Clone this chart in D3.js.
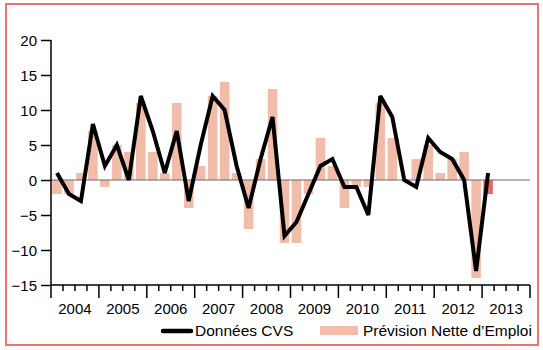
<!DOCTYPE html>
<html>
<head>
<meta charset="utf-8">
<script src="https://cdn.jsdelivr.net/npm/d3@7"></script>
<style>
  html, body { margin: 0; padding: 0; background: #fff; }
  svg { display: block; font-family: "Liberation Sans", Arial, Helvetica, sans-serif; }
</style>
</head>
<body>
<svg id="chart"></svg>
<script>
// Quarterly series, 2004 Q1 -> 2013 Q1
const years = [2004, 2005, 2006, 2007, 2008, 2009, 2010, 2011, 2012, 2013];
const yTicks = [-15, -10, -5, 0, 5, 10, 15, 20];
const donneesCVS = [
  1, -2, -3, 8,
  2, 5, 0, 12,
  7, 1, 7, -3,
  5, 12, 10, 2,
  -4, 3, 9, -8,
  -6, -2, 2, 3,
  -1, -1, -5, 12,
  9, 0, -1, 6,
  4, 3, 0, -13,
  1
];
const prevision = [
  -2, -2, 1, 7,
  -1, 5, 4, 11,
  4, 1, 11, -4,
  2, 12, 14, 1,
  -7, 3, 13, -9,
  -9, -2, 6, 2,
  -4, -1, -1, 11,
  6, 0, 3, 5,
  1, 3, 4, -14,
  -2
];
const legendLabels = ['Données CVS', 'Prévision Nette d\u2019Emploi'];

const width = 543, height = 350;
const margin = { top: 40, right: 13, bottom: 65, left: 51 };
const innerWidth = width - margin.left - margin.right;
const innerHeight = height - margin.top - margin.bottom;
const font = '"Liberation Sans", Arial, Helvetica, sans-serif';

const barColor = '#f2bcaa';
const lastBarColor = '#e8695f';

const svg = d3.select('#chart')
  .attr('width', width)
  .attr('height', height)
  .attr('viewBox', `0 0 ${width} ${height}`);

// outer frame
svg.append('rect')
  .attr('x', 6).attr('y', 4)
  .attr('width', 532).attr('height', 341)
  .attr('fill', 'none')
  .attr('stroke', '#e5776f')
  .attr('stroke-width', 2);

const g = svg.append('g').attr('transform', `translate(${margin.left}, ${margin.top})`);

const nQuarters = years.length * 4;
const xScale = d3.scaleLinear().domain([0, nQuarters]).range([0, innerWidth]);
const yScale = d3.scaleLinear().domain([-15, 20]).range([innerHeight, 0]);
const qw = xScale(1) - xScale(0);
const barW = qw * 0.8;

// bars
g.selectAll('.bar')
  .data(prevision)
  .join('rect')
  .attr('class', 'bar')
  .attr('x', (d, i) => xScale(i + 0.5) - barW / 2)
  .attr('width', barW)
  .attr('y', d => yScale(Math.max(0, d)))
  .attr('height', d => Math.abs(yScale(d) - yScale(0)))
  .attr('fill', (d, i) => i === prevision.length - 1 ? lastBarColor : barColor);

// zero line
g.append('line')
  .attr('x1', 0).attr('x2', innerWidth)
  .attr('y1', yScale(0)).attr('y2', yScale(0))
  .attr('stroke', '#666')
  .attr('stroke-width', 1);

// Y axis
const yAxis = g.append('g')
  .attr('font-family', font)
  .call(d3.axisLeft(yScale).tickValues(yTicks).tickSize(10).tickPadding(4));
yAxis.attr('font-family', font);
yAxis.select('.domain').remove();
yAxis.selectAll('line').attr('stroke', '#000').attr('stroke-width', 1.5);
yAxis.selectAll('text')
  .attr('font-size', '15px')
  .attr('fill', '#000')
  .attr('dy', '0.36em');

g.append('line')
  .attr('x1', 0).attr('x2', 0)
  .attr('y1', 0).attr('y2', innerHeight + 13)
  .attr('stroke', '#000')
  .attr('stroke-width', 1.5);

// X axis — quarter ticks, longer ticks at year boundaries
const xAxisG = g.append('g').attr('transform', `translate(0, ${innerHeight})`);
xAxisG.append('line')
  .attr('x1', 0).attr('x2', innerWidth)
  .attr('y1', 0).attr('y2', 0)
  .attr('stroke', '#000')
  .attr('stroke-width', 1.5);

xAxisG.selectAll('.qtick')
  .data(d3.range(1, nQuarters + 1))
  .join('line')
  .attr('class', 'qtick')
  .attr('x1', d => xScale(d)).attr('x2', d => xScale(d))
  .attr('y1', 0)
  .attr('y2', d => d % 4 === 0 ? 13 : 6)
  .attr('stroke', '#000')
  .attr('stroke-width', 1.5);

xAxisG.selectAll('.ylabel')
  .data(years)
  .join('text')
  .attr('class', 'ylabel')
  .attr('x', (d, i) => xScale(i * 4 + 2))
  .attr('y', 29)
  .attr('text-anchor', 'middle')
  .attr('font-size', '15px')
  .attr('fill', '#000')
  .text(d => d);

// CVS line
const line = d3.line()
  .x((d, i) => xScale(i + 0.5))
  .y(d => yScale(d));

g.append('path')
  .datum(donneesCVS)
  .attr('fill', 'none')
  .attr('stroke', '#000')
  .attr('stroke-width', 4)
  .attr('stroke-linejoin', 'miter')
  .attr('stroke-miterlimit', 3)
  .attr('d', line);

// Legend
const legend = svg.append('g');
legend.append('line')
  .attr('x1', 163).attr('x2', 191)
  .attr('y1', 331).attr('y2', 331)
  .attr('stroke', '#000')
  .attr('stroke-width', 4.5)
  .attr('stroke-linecap', 'round');
legend.append('text')
  .attr('x', 195).attr('y', 336)
  .attr('font-size', '15.5px')
  .attr('fill', '#000')
  .text(legendLabels[0]);
legend.append('rect')
  .attr('x', 320).attr('y', 326)
  .attr('width', 38).attr('height', 9)
  .attr('fill', barColor);
legend.append('text')
  .attr('x', 363).attr('y', 336)
  .attr('font-size', '15.5px')
  .attr('fill', '#000')
  .text(legendLabels[1]);
</script>
</body>
</html>
